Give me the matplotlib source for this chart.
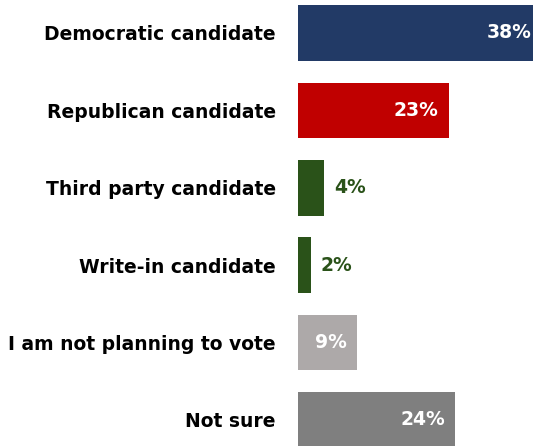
import matplotlib.pyplot as plt

# data
categories = ['Democratic candidate', 'Republican candidate', 'Third party candidate',
              'Write-in candidate', 'I am not planning to vote', 'Not sure']
values = [38, 23, 4, 2, 9, 24]
colors = ['#223A66', '#C00000', '#2A5219', '#2A5219', '#ADA9A9', '#7F7F7F']
label_inside = [True, True, False, False, True, True]

plt.rcParams['font.family'] = ['DejaVu Sans']

fig = plt.figure(figsize=(5.33, 4.46), dpi=100)
ax = fig.add_axes([298 / 533, 0, 235 / 533, 1])

ypos = list(range(len(categories)))
ax.barh(ypos, values, height=0.72, color=colors, edgecolor='none')

ax.set_xlim(0, 35.9)
ax.set_ylim(5.336, -0.426)
ax.set_yticks(ypos)
ax.set_yticklabels(categories, fontsize=13.5, fontweight='bold', color='black')
ax.tick_params(axis='y', length=0, pad=16)
ax.set_xticks([])
for s in ax.spines.values():
    s.set_visible(False)

# value labels
for y, v, c, inside in zip(ypos, values, colors, label_inside):
    if inside:
        xv = min(v, 35.9)
        ax.annotate('%d%%' % v, (xv, y), xytext=(-7 if v < 35.9 else -1, 0),
                    textcoords='offset points', ha='right', va='center',
                    fontsize=13.5, fontweight='bold', color='white')
    else:
        ax.annotate('%d%%' % v, (v, y), xytext=(7, 0), textcoords='offset points',
                    ha='left', va='center', fontsize=13.5, fontweight='bold', color=c)

plt.savefig('out.png', dpi=100)
